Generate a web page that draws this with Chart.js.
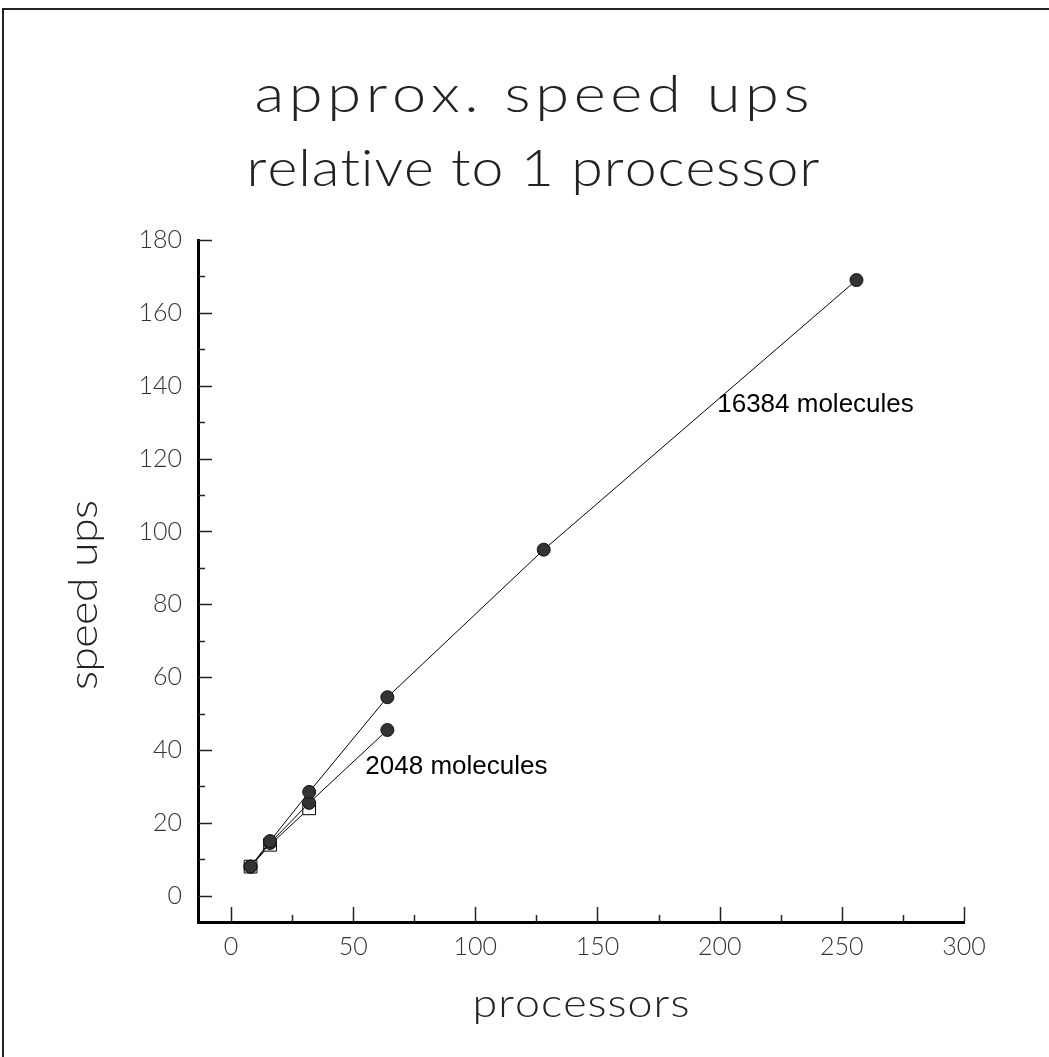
<!DOCTYPE html>
<html><head><meta charset="utf-8">
<script src="https://cdn.jsdelivr.net/npm/chart.js@4.4.0/dist/chart.umd.min.js"></script>
<style>html,body{margin:0;padding:0;background:#fff;}canvas{display:block;}</style>
</head><body>
<canvas id="c" width="1049" height="1057"></canvas>
<script>
// ---- data ----
const processorsLarge = [8, 16, 32, 64, 128, 256];
const speedupLarge    = [8, 15, 28.5, 54.5, 95, 169];
const processorsSmall = [8, 16, 32, 64];
const speedupSmall    = [8, 14.5, 25.5, 45.5];
const processorsOpen  = [8, 16, 32];
const speedupOpen     = [8, 14, 24];
const xTickValues  = [0, 50, 100, 150, 200, 250, 300];
const xMinorValues = [25, 75, 125, 175, 225, 275];
const yTickValues  = [0, 20, 40, 60, 80, 100, 120, 140, 160, 180];
const yMinorValues = [10, 30, 50, 70, 90, 110, 130, 150, 170];
const titleLines = ['approx. speed ups', 'relative to 1 processor'];
const xAxisTitle = 'processors';
const yAxisTitle = 'speed ups';
const seriesLabels = ['16384 molecules', '2048 molecules'];
const seriesLabelX = [199, 55];
const seriesLabelY = [132.7, 33.5];

const THIN = '300 {s}px Lato, "Open Sans", sans-serif';
function thin(s){ return THIN.replace('{s}', s); }

function spacedText(ctx, text, cx, y, font, targetW, color, rot, stretch){
  const sx = stretch || 1;
  ctx.save();
  ctx.font = font; ctx.fillStyle = color; ctx.textAlign = 'left'; ctx.textBaseline = 'alphabetic';
  const chars = Array.from(text);
  const ws = chars.map(c => ctx.measureText(c).width * sx);
  const W = ws.reduce((a,b)=>a+b,0);
  const sp = chars.length > 1 ? (targetW - W) / (chars.length - 1) : 0;
  ctx.translate(cx, y);
  if (rot) ctx.rotate(rot);
  let x = -targetW / 2;
  chars.forEach((c,i)=>{
    ctx.save(); ctx.translate(x, 0); ctx.scale(sx, 1); ctx.fillText(c, 0, 0); ctx.restore();
    x += ws[i] + sp;
  });
  ctx.restore();
}

const decor = {
  id: 'decor',
  beforeDraw(chart){
    const ctx = chart.ctx;
    ctx.save();
    ctx.fillStyle = '#fff'; ctx.fillRect(0,0,chart.width,chart.height);
    ctx.strokeStyle = '#222'; ctx.lineWidth = 2;
    ctx.beginPath(); ctx.moveTo(3, 1057); ctx.lineTo(3, 9); ctx.lineTo(1049, 9); ctx.stroke();
    ctx.restore();
  },
  beforeDatasetsDraw(chart){
    const ctx = chart.ctx, xs = chart.scales.x, ys = chart.scales.y;
    const a = chart.chartArea;
    ctx.save();
    ctx.strokeStyle = '#222'; ctx.lineWidth = 1.5;
    ctx.beginPath();
    yTickValues.forEach(v=>{ const p = Math.round(ys.getPixelForValue(v))+0.5; ctx.moveTo(a.left, p); ctx.lineTo(a.left+14, p); });
    yMinorValues.forEach(v=>{ const p = Math.round(ys.getPixelForValue(v))+0.5; ctx.moveTo(a.left, p); ctx.lineTo(a.left+7, p); });
    xTickValues.forEach(v=>{ const p = Math.round(xs.getPixelForValue(v))+0.5; ctx.moveTo(p, a.bottom); ctx.lineTo(p, a.bottom-15); });
    xMinorValues.forEach(v=>{ const p = Math.round(xs.getPixelForValue(v))+0.5; ctx.moveTo(p, a.bottom); ctx.lineTo(p, a.bottom-7); });
    ctx.stroke();
    ctx.restore();
  },
  afterDraw(chart){
    const ctx = chart.ctx, xs = chart.scales.x, ys = chart.scales.y;
    spacedText(ctx, titleLines[0], 532, 112, thin(52), 555, '#222', 0, 1.18);
    spacedText(ctx, titleLines[1], 533, 186, thin(52), 573, '#222', 0, 1.1);
    spacedText(ctx, xAxisTitle, 581, 1017, thin(40), 217, '#222', 0, 1.12);
    spacedText(ctx, yAxisTitle, 97, 595, thin(40), 190, '#222', -Math.PI/2, 1.12);
    ctx.save();
    ctx.font = '26px "Liberation Sans", Arial, sans-serif';
    ctx.fillStyle = '#000'; ctx.textAlign = 'left'; ctx.textBaseline = 'alphabetic';
    seriesLabels.forEach((t,i)=>{
      ctx.fillText(t, xs.getPixelForValue(seriesLabelX[i]), ys.getPixelForValue(seriesLabelY[i]));
    });
    ctx.restore();
  }
};

const pts = (xa, ya) => xa.map((x,i)=>({x, y: ya[i]}));
const tickFont = {family: 'Lato, "Open Sans", sans-serif', weight: '300', size: 25};

new Chart(document.getElementById('c'), {
  type: 'scatter',
  data: { datasets: [
    { label: seriesLabels[0], data: pts(processorsLarge, speedupLarge), showLine: true,
      borderColor: '#000', borderWidth: 1, pointStyle: 'circle', pointRadius: 6.5,
      pointBackgroundColor: '#333', pointBorderColor: '#111', pointBorderWidth: 1 },
    { label: seriesLabels[1], data: pts(processorsSmall, speedupSmall), showLine: true,
      borderColor: '#000', borderWidth: 1, pointStyle: 'circle', pointRadius: 6.5,
      pointBackgroundColor: '#333', pointBorderColor: '#111', pointBorderWidth: 1 },
    { label: 'open', data: pts(processorsOpen, speedupOpen), showLine: true,
      borderColor: '#000', borderWidth: 1, pointStyle: 'rect', pointRadius: 9,
      pointBackgroundColor: '#fff', pointBorderColor: '#000', pointBorderWidth: 1 }
  ]},
  options: {
    responsive: false, animation: false, devicePixelRatio: 1,
    layout: { padding: { left: 0, top: 240, right: 85, bottom: 0 } },
    plugins: { legend: {display: false}, tooltip: {enabled: false}, title: {display: false} },
    scales: {
      x: { type: 'linear', min: -13.5, max: 300,
        grid: { display: false, drawTicks: false },
        border: { display: true, width: 3, color: '#000' },
        afterBuildTicks: s => { s.ticks = xTickValues.map(v => ({value: v})); },
        afterFit: s => { s.height = 135; },
        ticks: { padding: 10, font: tickFont, color: '#333', maxRotation: 0, autoSkip: false } },
      y: { type: 'linear', min: -7.2, max: 180,
        grid: { display: false, drawTicks: false },
        border: { display: true, width: 3, color: '#000' },
        afterBuildTicks: s => { s.ticks = yTickValues.map(v => ({value: v})); },
        afterFit: s => { s.width = 198; },
        ticks: { padding: 16, font: tickFont, color: '#333', autoSkip: false } }
    }
  },
  plugins: [decor]
});
</script>
</body></html>
